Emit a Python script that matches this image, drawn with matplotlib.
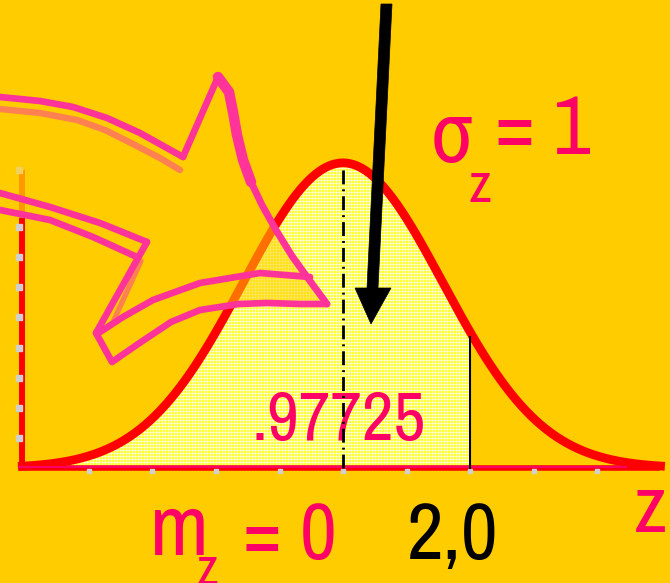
import numpy as np
import matplotlib
matplotlib.use("Agg")
import matplotlib.pyplot as plt
from matplotlib.patches import Polygon

# curve parameters (tick units) and the cut point
mean_z = 0.0
curve_spread = 1.575
z_cut = 2.0
z_start, z_end = -5.05, 5.0
area_label = ".97725"
x_ticks = [-4, -3, -2, -1, 0, 1, 2, 3, 4]
y_ticks = [0.025, 0.05, 0.075, 0.1, 0.125, 0.15, 0.175, 0.2]

# shooting star decoration, in figure pixels (y down)
upper_tail_top = [(0, 97), (40, 101), (73, 107), (107, 118), (140, 133), (183, 157)]
upper_tail_shadow = [(0, 109), (40, 113), (77, 120), (105, 130), (133, 144), (160, 158), (180, 170)]
star_spike = [(183, 157), (218, 77)]
star_right = [(218, 77), (229, 92), (233, 112), (237, 135), (243, 160), (251, 182),
              (262, 205), (276, 230), (292, 256), (310, 281), (327, 304)]
band_top = [(310, 277), (260, 273), (200, 283), (153, 300), (123, 317), (100, 332)]
band_bottom = [(327, 304), (300, 304), (267, 303), (239, 304), (200, 310), (171, 322),
               (141, 342), (112, 362), (96, 333)]
star_left = [(96, 333), (147, 242)]
star_left_shadow = [(141, 261), (113, 322)]
mid_tail_top = [(0, 193), (50, 207), (100, 223), (147, 242)]
mid_tail_bottom = [(0, 210), (50, 220), (93, 237), (137, 257)]
arrow_shape = [(381, 4), (392, 4), (378, 288), (391, 288), (371, 324), (355, 288), (367, 288)]

W, H = 670, 583
GOLD = "#FFCC00"
PINK = "#FF0066"
STAR = "#FF3399"
FONT = ["Archivo Narrow", "Roboto Condensed", "Liberation Sans", "DejaVu Sans"]

fig = plt.figure(figsize=(W / 100, H / 100), dpi=100, facecolor=GOLD)
ax = fig.add_axes([0, 0, 1, 1])
ax.set_facecolor(GOLD)
ax.axis("off")
# 63.5 px per z unit with z=0 at px 343, baseline at px 468
x0, sx = 343.0, 63.5
y0, sy = 468.0, 1204.6
xlo, xhi = -x0 / sx, (W - x0) / sx
ylo, yhi = (y0 - H) / sy, y0 / sy
ax.set_xlim(xlo, xhi)
ax.set_ylim(ylo, yhi)

deco = fig.add_axes([0, 0, 1, 1])
deco.patch.set_visible(False)
deco.axis("off")
deco.set_xlim(0, W)
deco.set_ylim(H, 0)

z = np.linspace(z_start, z_end, 500)
pdf = np.exp(-0.5 * ((z - mean_z) / curve_spread) ** 2) / (curve_spread * np.sqrt(2 * np.pi))

# dotted yellow fill under the curve up to z_cut
zf = np.append(z[z <= z_cut], z_cut)
pf = np.exp(-0.5 * ((zf - mean_z) / curve_spread) ** 2) / (curve_spread * np.sqrt(2 * np.pi))
verts = np.vstack([np.column_stack([zf, pf]), [[z_cut, 0], [zf[0], 0]]])
clip = Polygon(verts, closed=True, transform=ax.transData)
ii, jj = np.mgrid[0:H, 0:W]
tex = np.empty((H, W, 3))
tex[:] = (1.0, 1.0, 0.2)
grid = (ii % 3 == 0) | (jj % 3 == 0)
tex[grid] = (1.0, 1.0, 0.65)
tex[(ii % 3 == 0) & (jj % 3 == 0)] = (1.0, 1.0, 1.0)
im = ax.imshow(tex, extent=(xlo, xhi, ylo, yhi), origin="upper",
               interpolation="nearest", aspect="auto", zorder=1)
im.set_clip_path(clip)

# axes lines
ax.plot([z_start, z_start], [0, 0.2075], color="#FF0000", lw=4.3, zorder=3, solid_capstyle="butt")
ax.plot([z_start, z_start], [0.2075, 0.247], color="#FF9900", lw=4.3, zorder=3, solid_capstyle="butt")
ax.plot([z_start - 0.05], [0.247], "s", color="#F2D060", ms=4, zorder=3)
ax.plot([z_start, 4.95], [0, 0], color="#FF0000", lw=4, zorder=3)
ax.plot([z_start - 0.05, 4.46], [0.001, 0.001], color=PINK, lw=1.6, zorder=3)
ax.plot(x_ticks, [-0.0028] * len(x_ticks), "s", color="#D0D0D0", ms=3.5, zorder=3)
ax.plot([z_start - 0.06] * len(y_ticks), y_ticks, "s", color="#D0D0D0", ms=4.5, zorder=3)

# the bell curve
ax.plot(z, pdf, color="#FF0000", lw=6.3, zorder=2, solid_joinstyle="round")

ax.text(251, 440, area_label, transform=deco.transData, color=PINK, fontsize=50,
        family=FONT, ha="left", va="baseline", zorder=4)

# mean and cut markers
peak = pdf.max()
ax.plot([mean_z, mean_z], [0, peak - 0.002], color="black", lw=2,
        dashes=(5, 1.8, 0.7, 1.8), zorder=5)
cut_h = np.exp(-0.5 * ((z_cut - mean_z) / curve_spread) ** 2) / (curve_spread * np.sqrt(2 * np.pi))
ax.plot([z_cut, z_cut], [0, cut_h - 0.004], color="black", lw=1.5, zorder=5)

# shooting star
body = star_spike + star_right[1:] + band_bottom + [star_left[1]]
deco.add_patch(Polygon(body, closed=True, facecolor=GOLD, alpha=0.55, edgecolor="none", zorder=1))
for pts, col, lw in [(upper_tail_shadow, "#FF8050", 4.6), (star_left_shadow, "#FF8050", 3.8),
                     (upper_tail_top, STAR, 4.8), (star_spike, STAR, 4.8),
                     (star_right[:6], STAR, 7.5), (star_right[5:], STAR, 5),
                     (band_top, STAR, 4.8), (band_bottom, STAR, 4.8), (star_left, STAR, 4.8),
                     (mid_tail_top, STAR, 4.8), (mid_tail_bottom, STAR, 4.8)]:
    p = np.array(pts)
    deco.plot(p[:, 0], p[:, 1], color=col, lw=lw, solid_capstyle="round",
              solid_joinstyle="round", zorder=2)

deco.add_patch(Polygon(arrow_shape, closed=True, facecolor="black", edgecolor="black",
                       lw=0.5, zorder=3))

# labels
deco.text(430, 162, "σ", color=PINK, fontsize=62, family=FONT, va="baseline", zorder=4)
deco.text(469, 202, "z", color=PINK, fontsize=40, family=FONT, va="baseline", zorder=4)
deco.text(494, 154, "=", color=PINK, fontsize=60, family=FONT, va="baseline", zorder=4)
deco.text(553, 154, "1", color=PINK, fontsize=60, family=FONT, va="baseline", zorder=4)
deco.text(150, 555, "m", color=PINK, fontsize=62, family=FONT, va="baseline", zorder=4)
deco.text(197, 585, "z", color=PINK, fontsize=38, family=FONT, va="baseline", zorder=4)
deco.text(243, 559, "= 0", color=PINK, fontsize=58, family=FONT, va="baseline", zorder=4)
deco.text(407, 559, "2,0", color="black", fontsize=58, family=FONT, va="baseline", zorder=4)
deco.text(634, 532, "z", color=PINK, fontsize=58, family=FONT, va="baseline", zorder=4)

fig.savefig("out.png", dpi=100, facecolor=GOLD)
